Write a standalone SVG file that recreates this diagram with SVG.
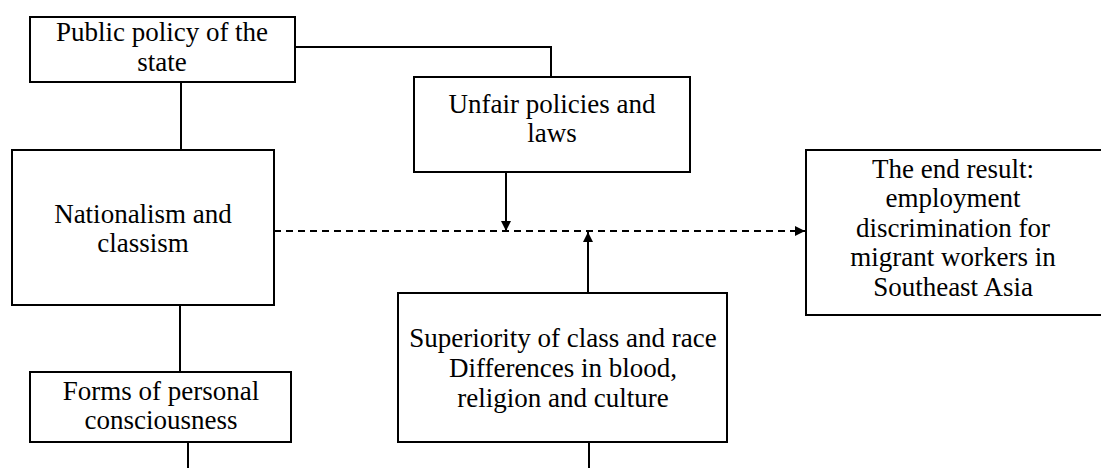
<svg xmlns="http://www.w3.org/2000/svg" width="1101" height="468" viewBox="0 0 1101 468">
<defs>
<style>
.box{fill:#fff;stroke:#000;stroke-width:2}
.t{font-family:"Liberation Serif","Times New Roman",serif;font-size:27px;fill:#000;text-anchor:middle}
.c{fill:none;stroke:#000;stroke-width:2}
.d{fill:none;stroke:#000;stroke-width:2;stroke-dasharray:7,5}
</style>
<marker id="ah" viewBox="0 0 10 10" refX="10" refY="5" markerWidth="5" markerHeight="5" orient="auto" markerUnits="strokeWidth">
<path d="M0,0 L10,5 L0,10 z" fill="#000"/>
</marker>
</defs>
<rect width="1101" height="468" fill="#fff"/>
<g id="connectors">
<polyline class="c" points="295,47 551,47 551,77"/>
<line class="c" x1="181" y1="82" x2="181" y2="150"/>
<line class="c" x1="180" y1="305" x2="180" y2="372"/>
<line class="c" x1="188" y1="442" x2="188" y2="468"/>
<line class="c" x1="589" y1="442" x2="589" y2="468"/>
<line class="d" x1="274" y1="231" x2="805" y2="231" marker-end="url(#ah)"/>
<line class="c" x1="506" y1="172" x2="506" y2="231" marker-end="url(#ah)"/>
<line class="c" x1="588" y1="293" x2="588" y2="232" marker-end="url(#ah)"/>
</g>
<g id="public-policy">
<rect class="box" x="30" y="17" width="265" height="65"/>
<text class="t" x="162" y="41">Public policy of the</text>
<text class="t" x="162" y="71">state</text>
</g>
<g id="unfair-policies">
<rect class="box" x="414" y="77" width="276" height="95"/>
<text class="t" x="552" y="113">Unfair policies and</text>
<text class="t" x="552" y="142">laws</text>
</g>
<g id="nationalism">
<rect class="box" x="12" y="150" width="262" height="155"/>
<text class="t" x="143" y="223">Nationalism and</text>
<text class="t" x="143" y="252">classism</text>
</g>
<g id="end-result">
<rect class="box" x="806" y="150" width="297" height="165"/>
<text class="t" x="953" y="178">The end result:</text>
<text class="t" x="953" y="207">employment</text>
<text class="t" x="953" y="237">discrimination for</text>
<text class="t" x="953" y="266">migrant workers in</text>
<text class="t" x="953" y="296">Southeast Asia</text>
</g>
<g id="superiority">
<rect class="box" x="398" y="293" width="329" height="149"/>
<text class="t" x="563" y="347">Superiority of class and race</text>
<text class="t" x="563" y="377">Differences in blood,</text>
<text class="t" x="563" y="407">religion and culture</text>
</g>
<g id="personal-consciousness">
<rect class="box" x="30" y="372" width="261" height="70"/>
<text class="t" x="161" y="400">Forms of personal</text>
<text class="t" x="161" y="429">consciousness</text>
</g>
</svg>
